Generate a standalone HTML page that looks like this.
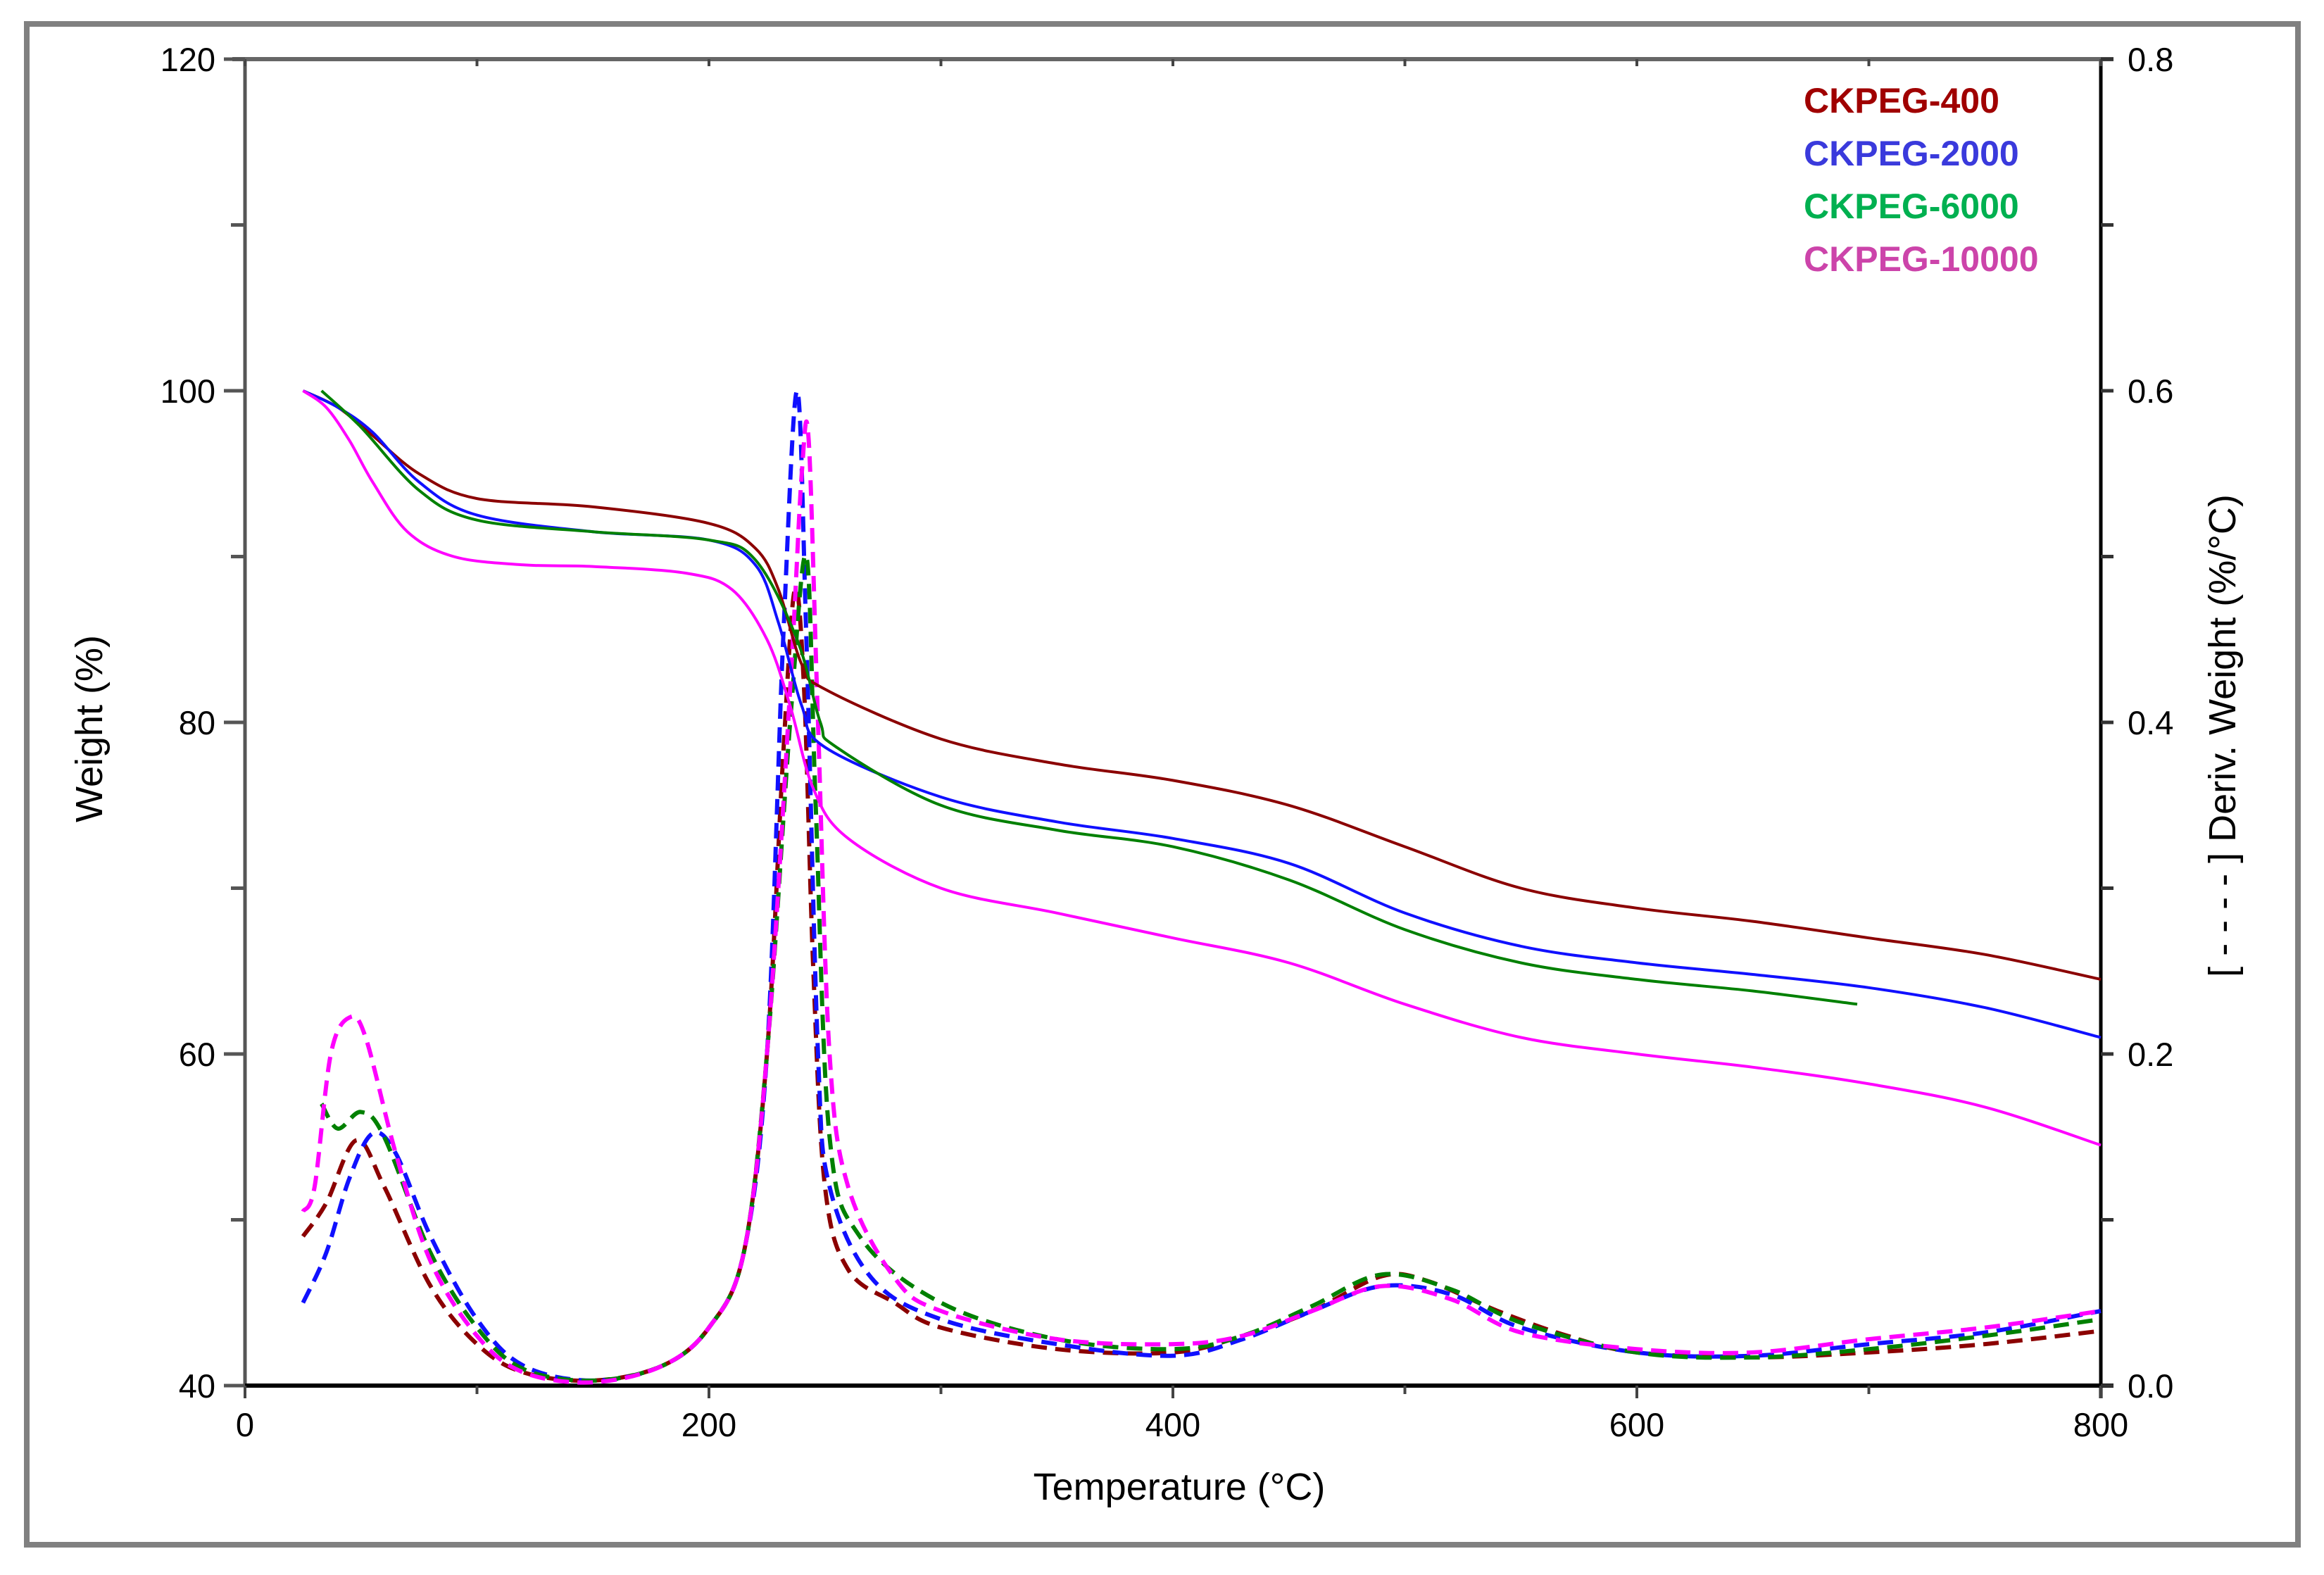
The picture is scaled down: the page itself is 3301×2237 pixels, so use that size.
<!DOCTYPE html>
<html><head><meta charset="utf-8"><style>
html,body{margin:0;padding:0;background:#fff;}
svg{display:block;}
text{font-family:"Liberation Sans",sans-serif;}
</style></head><body>
<svg id="chart" width="3301" height="2237" viewBox="0 0 3301 2237" xmlns="http://www.w3.org/2000/svg">
<rect x="38" y="34" width="3226" height="2160" fill="#fff" stroke="#808080" stroke-width="8"/>
<g id="axes"></g>
<g id="series"></g>
<text x="0" y="0" font-size="54" text-anchor="middle" transform="translate(145,1035) rotate(-90)">Weight (%)</text>
<text x="1675" y="2130" font-size="54" text-anchor="middle">Temperature (°C)</text>
<text x="0" y="0" font-size="54" text-anchor="middle" transform="translate(3175,1045) rotate(-90)">[ - - - - ] Deriv. Weight (%/°C)</text>
<g font-weight="bold" font-size="50">
<text x="2562" y="160" fill="#a00000">CKPEG-400</text>
<text x="2562" y="235" fill="#3a3adc">CKPEG-2000</text>
<text x="2562" y="310" fill="#00b050">CKPEG-6000</text>
<text x="2562" y="385" fill="#cc44aa">CKPEG-10000</text>
</g>
</svg>
<script>
const xTicks=[0,200,400,600,800];
const yTicks=[40,60,80,100,120];
const y2Ticks=["0.0","0.2","0.4","0.6","0.8"];
const names=["ckpeg-400","ckpeg-2000","ckpeg-6000","ckpeg-10000"];
const colors=["#8b0000","#1010ff","#008000","#ff00ff"];
// weight curves: [temperature, weight %]
const w400=[[25,100],[40,99],[55,97.3],[75,95],[100,93.5],[150,93],[200,92],[220,90.5],[230,88],[240,83.5],[250,82],[300,79],[350,77.5],[400,76.5],[450,75],[500,72.5],[550,70],[600,68.8],[650,68],[700,67],[750,66],[800,64.5]];
const w2000=[[25,100],[40,99],[55,97.5],[75,94.5],[100,92.5],[150,91.5],[200,91],[220,89.5],[230,86],[240,81],[250,78.5],[300,75.5],[350,74],[400,73],[450,71.5],[500,68.5],[550,66.5],[600,65.5],[650,64.8],[700,64],[750,62.8],[800,61]];
const w6000=[[33,100],[50,97.8],[75,94],[100,92.2],[150,91.5],[200,91],[220,89.8],[238,85],[248,80],[255,78.5],[300,75],[350,73.5],[400,72.5],[450,70.5],[500,67.5],[550,65.5],[600,64.5],[650,63.8],[695,63]];
const w10000=[[25,100],[35,99],[45,97],[55,94.5],[70,91.5],[90,90],[120,89.5],[150,89.4],[190,89],[210,88],[225,85],[235,81],[245,76],[260,73],[300,70],[350,68.5],[400,67],[450,65.5],[500,63],[550,61],[600,60],[650,59.2],[700,58.2],[750,56.8],[800,54.5]];
// derivative curves: [temperature, %/°C]
const d400=[[25,0.09],[35,0.11],[48,0.148],[60,0.12],[80,0.06],[100,0.025],[120,0.008],[150,0.003],[180,0.012],[200,0.035],[215,0.08],[225,0.2],[232,0.38],[237,0.48],[241,0.42],[245,0.25],[250,0.12],[260,0.07],[280,0.05],[300,0.035],[350,0.022],[400,0.02],[430,0.03],[460,0.045],[490,0.066],[510,0.063],[540,0.045],[570,0.03],[600,0.02],[650,0.017],[700,0.02],[750,0.025],[800,0.033]];
const d2000=[[25,0.05],[35,0.08],[45,0.125],[55,0.152],[65,0.14],[80,0.09],[100,0.04],[120,0.012],[150,0.003],[180,0.012],[200,0.035],[215,0.08],[225,0.2],[232,0.45],[238,0.6],[242,0.45],[247,0.2],[252,0.12],[270,0.065],[300,0.04],[350,0.025],[400,0.018],[430,0.028],[460,0.045],[490,0.06],[520,0.055],[550,0.035],[600,0.02],[650,0.018],[700,0.025],[750,0.032],[800,0.045]];
const d6000=[[33,0.17],[40,0.155],[50,0.165],[60,0.15],[80,0.08],[100,0.035],[120,0.01],[150,0.003],[180,0.012],[200,0.035],[215,0.08],[225,0.2],[235,0.4],[242,0.5],[246,0.35],[252,0.15],[265,0.09],[300,0.05],[350,0.028],[400,0.022],[430,0.03],[460,0.048],[490,0.067],[520,0.058],[550,0.038],[600,0.02],[650,0.017],[700,0.022],[750,0.03],[800,0.04]];
const d10000=[[25,0.105],[30,0.12],[37,0.2],[45,0.222],[52,0.21],[65,0.14],[80,0.075],[100,0.03],[120,0.008],[150,0.002],[180,0.012],[200,0.035],[215,0.08],[225,0.2],[235,0.42],[240,0.55],[243,0.57],[247,0.4],[252,0.2],[260,0.12],[280,0.065],[300,0.045],[350,0.028],[400,0.025],[430,0.03],[460,0.045],[490,0.06],[520,0.052],[550,0.032],[600,0.022],[650,0.02],[700,0.028],[750,0.035],[800,0.045]];

const NS="http://www.w3.org/2000/svg";
const L=348,R=2984,T=84,B=1968;
const xs=t=>L+(t-0)/800*(R-L);
const ys=w=>B-(w-40)/80*(B-T);
const y2s=d=>B-d/0.8*(B-T);
function mk(tag,attrs,parent){const e=document.createElementNS(NS,tag);for(const k in attrs)e.setAttribute(k,attrs[k]);parent.appendChild(e);return e;}
const ax=document.getElementById('axes');
function line(x1,y1,x2,y2,w,c,name){const e=mk('line',{x1:x1,y1:y1,x2:x2,y2:y2,stroke:c,'stroke-width':w},ax);

return e;}
line(L,T,L,B,5,'#555','y-axis-line');
line(R,T,R,B+18,5,'#000','y2-axis-line');
line(L-18,T,R+18,T,6,'#666','top-axis-line');
line(L,B,R+18,B,6,'#000','x-axis-line');
for(let t=0;t<=800;t+=100){
  const major=t%200===0;
  line(xs(t),B,xs(t),B+(major?18:12),4,'#444','x-tick');
  line(xs(t),T,xs(t),T+10,4,'#444','x-top-tick');
}
xTicks.forEach(t=>{const e=mk('text',{x:xs(t),y:B+72,'font-size':47,'text-anchor':'middle'},ax);e.textContent=t;

});
for(let w=40;w<=120;w+=10){line(L-(w%20===0?30:20),ys(w),L,ys(w),5,'#555','y-tick');}
yTicks.forEach(w=>{const e=mk('text',{x:L-42,y:ys(w)+17,'font-size':47,'text-anchor':'end'},ax);e.textContent=w;

});
for(let i=0;i<=8;i++){line(R,y2s(i*0.1),R+18,y2s(i*0.1),5,'#333','y2-tick');}
y2Ticks.forEach(d=>{const e=mk('text',{x:R+38,y:y2s(parseFloat(d))+17,'font-size':47},ax);e.textContent=d;

});

function smoothPath(pts){
  let d='M'+pts[0][0].toFixed(1)+','+pts[0][1].toFixed(1);
  for(let i=0;i<pts.length-1;i++){
    const p0=pts[Math.max(0,i-1)],p1=pts[i],p2=pts[i+1],p3=pts[Math.min(pts.length-1,i+2)];
    const c1x=p1[0]+(p2[0]-p0[0])/6,c1y=p1[1]+(p2[1]-p0[1])/6;
    const c2x=p2[0]-(p3[0]-p1[0])/6,c2y=p2[1]-(p3[1]-p1[1])/6;
    d+=' C'+c1x.toFixed(1)+','+c1y.toFixed(1)+' '+c2x.toFixed(1)+','+c2y.toFixed(1)+' '+p2[0].toFixed(1)+','+p2[1].toFixed(1);
  }
  return d;
}
const sg=document.getElementById('series');
const wSets=[w400,w2000,w6000,w10000];
const dSets=[d400,d2000,d6000,d10000];
dSets.forEach((s,i)=>{
  const p=mk('path',{d:smoothPath(s.map(q=>[xs(q[0]),y2s(q[1])])),fill:'none',stroke:colors[i],'stroke-width':6,'stroke-dasharray':'22 12'},sg);
  
  
});
wSets.forEach((s,i)=>{
  const p=mk('path',{d:smoothPath(s.map(q=>[xs(q[0]),ys(q[1])])),fill:'none',stroke:colors[i],'stroke-width':4},sg);
  
  
});
</script>
</body></html>
